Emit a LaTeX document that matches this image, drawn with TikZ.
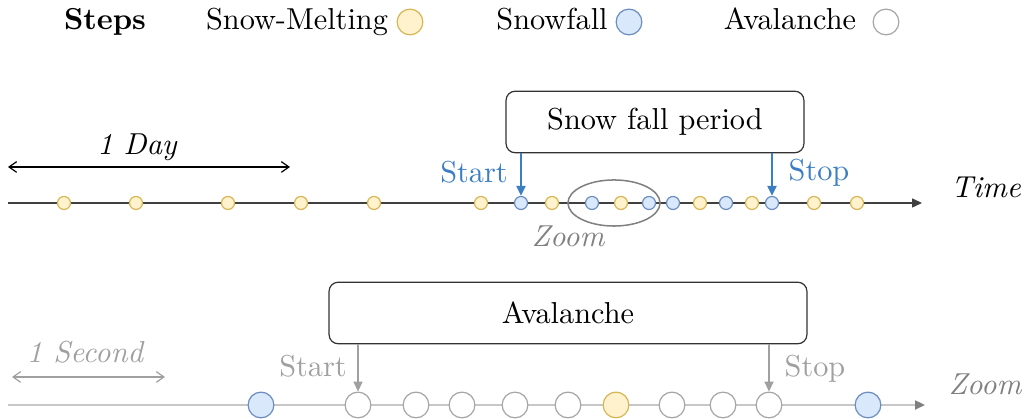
\documentclass[tikz,border=0pt]{standalone}
\usetikzlibrary{arrows.meta,positioning,shapes.geometric}
\definecolor{meltfill}{HTML}{FFF2CC}
\definecolor{meltdraw}{HTML}{D6B656}
\definecolor{fallfill}{HTML}{DAE8FC}
\definecolor{falldraw}{HTML}{6C8EBF}
\definecolor{markblue}{HTML}{3C7EC4}
\definecolor{zoomgray}{HTML}{808080}
\definecolor{lightgray}{HTML}{A0A0A0}
\begin{document}
\begin{tikzpicture}[x=0.33pt, y=-0.33pt, font=\normalsize, line join=round,
	dot/.style={circle, draw, inner sep=0pt, minimum size=4.3pt, line width=0.4pt},
	bigdot/.style={dot, minimum size=8.5pt},
	melt/.style={fill=meltfill, draw=meltdraw},
	fall/.style={fill=fallfill, draw=falldraw},
	aval/.style={fill=white, draw=black!35},
	period/.style={draw=black!80, rounded corners=3pt, line width=0.4pt, minimum height=20.3pt},
	tip/.style={-{Triangle[length=3.3pt, width=3pt]}},
	span/.style={{Straight Barb[length=2.5pt, width=3.5pt]}-{Straight Barb[length=2.5pt, width=3.5pt]}, line width=0.4pt}]
	\useasboundingbox (0,0) rectangle (1026,419);
	% Chú thích
	\node[anchor=base, font=\bfseries] (legend) at (105,30) {Steps};
	\node[anchor=base] (lmelt) at (297,30) {Snow-Melting};
	\node[bigdot, melt] (cmelt) at (410,22) {};
	\node[anchor=base] (lfall) at (552,30) {Snowfall};
	\node[bigdot, fall] (cfall) at (629,22) {};
	\node[anchor=base] (laval) at (790,30) {Avalanche};
	\node[bigdot, aval] (caval) at (886,22) {};
	% Trục thời gian (ngày)
	\path
	(8,203) coordinate (T0)
	(922,203) coordinate (T1)
	(8,167) coordinate (D0)
	(290,167) coordinate (D1);
	\draw[black!75, line width=0.4pt, tip] (T0) -- (T1);
	\draw[span] (D0) -- (D1);
	\node[font=\itshape, anchor=base] (day) at (137,155) {1 Day};
	\node[font=\itshape, anchor=base] (time) at (986,198) {Time};
	\node[ellipse, draw=zoomgray, line width=0.5pt, inner sep=0pt, minimum width=30.4pt, minimum height=15.2pt] (ring) at (614,203) {};
	\node[font=\itshape, text=zoomgray, anchor=base] (ringlabel) at (568,247) {Zoom};
	\foreach \x/\s [count=\i] in {64/melt, 136/melt, 228/melt, 301/melt, 374/melt, 481/melt, 521/fall, 552/melt, 592/fall, 621/melt, 649/fall, 673/fall, 700/melt, 726/fall, 752/melt, 772/fall, 814/melt, 857/melt}
	\node[dot, \s] (d\i) at (\x,203) {};
	\node[period, minimum width=98.3pt] (fallbox) at (655,122) {Snow fall period};
	\draw[markblue, line width=0.6pt, tip] (fallbox.south -| d7) -- (d7.north);
	\draw[markblue, line width=0.6pt, tip] (fallbox.south -| d16) -- (d16.north);
	\node[text=markblue, anchor=base] (fstart) at (474,183) {Start};
	\node[text=markblue, anchor=base] (fstop) at (819,181) {Stop};
	% Trục phóng to (giây)
	\path
	(8,405) coordinate (Z0)
	(925,405) coordinate (Z1)
	(12,377) coordinate (S0)
	(165,377) coordinate (S1);
	\draw[black!22, line width=0.6pt, -{Triangle[length=3.3pt, width=3pt, color=black!50]}] (Z0) -- (Z1);
	\draw[span, lightgray] (S0) -- (S1);
	\node[font=\itshape, text=lightgray, anchor=base] (second) at (85,363) {1 Second};
	\node[font=\itshape, text=zoomgray, anchor=base] (zoom) at (985,395) {Zoom};
	\foreach \x/\s [count=\i] in {261/fall, 358/aval, 416/aval, 462/aval, 515/aval, 568/aval, 616/melt, 672/aval, 723/aval, 769/aval, 868/fall}
	\node[bigdot, \s] (e\i) at (\x,405) {};
	\node[period, minimum width=157.7pt] (avalbox) at (568,313) {Avalanche};
	\draw[lightgray, line width=0.6pt, tip] (avalbox.south -| e2) -- (e2.north);
	\draw[lightgray, line width=0.6pt, tip] (avalbox.south -| e10) -- (e10.north);
	\node[text=lightgray, anchor=base] (zstart) at (313,377) {Start};
	\node[text=lightgray, anchor=base] (zstop) at (815,377) {Stop};
\end{tikzpicture}
\end{document}
